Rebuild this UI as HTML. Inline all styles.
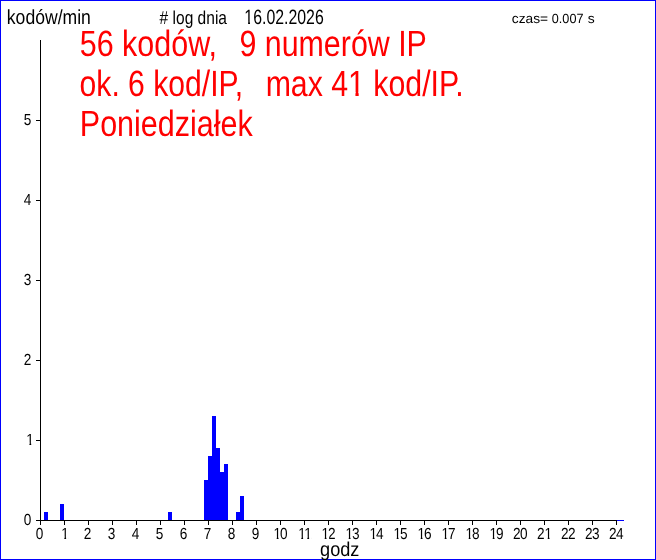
<!DOCTYPE html>
<html><head><meta charset="utf-8"><title>log dnia 16.02.2026</title>
<style>
html,body{margin:0;padding:0;background:#fff;}
body{width:656px;height:560px;overflow:hidden;}
#chart{width:656px;height:560px;will-change:transform;}
svg{display:block;}
text{font-family:"Liberation Sans",sans-serif;white-space:pre;text-rendering:geometricPrecision;}
.c{shape-rendering:crispEdges;}
</style></head><body>
<div id="chart"><svg width="656" height="560" viewBox="0 0 656 560">
<rect x="0" y="0" width="656" height="560" fill="#fff"/>

<g class="c" fill="#00f"><rect x="0" y="0" width="656" height="1"/><rect x="0" y="559" width="656" height="1"/><rect x="0" y="0" width="1" height="560"/><rect x="655" y="0" width="1" height="560"/></g>
<g class="c" fill="#00f">
<rect x="44" y="512" width="4" height="8"/>
<rect x="60" y="504" width="4" height="16"/>
<rect x="168" y="512" width="4" height="8"/>
<rect x="204" y="480" width="4" height="40"/>
<rect x="208" y="456" width="4" height="64"/>
<rect x="212" y="416" width="4" height="104"/>
<rect x="216" y="448" width="4" height="72"/>
<rect x="220" y="472" width="4" height="48"/>
<rect x="224" y="464" width="4" height="56"/>
<rect x="236" y="512" width="4" height="8"/>
<rect x="240" y="496" width="4" height="24"/>
<rect x="617" y="520" width="7" height="1"/>
</g>
<g class="c" fill="#000">
<rect x="40" y="40" width="1" height="481"/>
<rect x="40" y="520" width="577" height="1"/>
<rect x="40" y="521" width="1" height="4"/>
<rect x="64" y="521" width="1" height="4"/>
<rect x="88" y="521" width="1" height="4"/>
<rect x="112" y="521" width="1" height="4"/>
<rect x="136" y="521" width="1" height="4"/>
<rect x="160" y="521" width="1" height="4"/>
<rect x="184" y="521" width="1" height="4"/>
<rect x="208" y="521" width="1" height="4"/>
<rect x="232" y="521" width="1" height="4"/>
<rect x="256" y="521" width="1" height="4"/>
<rect x="280" y="521" width="1" height="4"/>
<rect x="304" y="521" width="1" height="4"/>
<rect x="328" y="521" width="1" height="4"/>
<rect x="352" y="521" width="1" height="4"/>
<rect x="376" y="521" width="1" height="4"/>
<rect x="400" y="521" width="1" height="4"/>
<rect x="424" y="521" width="1" height="4"/>
<rect x="448" y="521" width="1" height="4"/>
<rect x="472" y="521" width="1" height="4"/>
<rect x="496" y="521" width="1" height="4"/>
<rect x="520" y="521" width="1" height="4"/>
<rect x="544" y="521" width="1" height="4"/>
<rect x="568" y="521" width="1" height="4"/>
<rect x="592" y="521" width="1" height="4"/>
<rect x="616" y="521" width="1" height="4"/>
<rect x="36" y="520" width="4" height="1"/>
<rect x="36" y="440" width="4" height="1"/>
<rect x="36" y="360" width="4" height="1"/>
<rect x="36" y="280" width="4" height="1"/>
<rect x="36" y="200" width="4" height="1"/>
<rect x="36" y="120" width="4" height="1"/>
</g>
<g fill="#000" font-size="16.1">
<text transform="translate(35.80,539) scale(0.845,1)">0</text>
<text transform="translate(61.20,539) scale(0.845,1)">1</text><g fill="#fff" transform="translate(61.20,539) scale(0.845,1)"><rect x="0.43" y="-2.40" width="3.27" height="4.00"/><rect x="5.82" y="-2.40" width="3.15" height="4.00"/></g>
<text transform="translate(83.80,539) scale(0.845,1)">2</text>
<text transform="translate(107.80,539) scale(0.845,1)">3</text>
<text transform="translate(131.80,539) scale(0.845,1)">4</text>
<text transform="translate(155.80,539) scale(0.845,1)">5</text>
<text transform="translate(179.80,539) scale(0.845,1)">6</text>
<text transform="translate(203.80,539) scale(0.845,1)">7</text>
<text transform="translate(227.80,539) scale(0.845,1)">8</text>
<text transform="translate(251.80,539) scale(0.845,1)">9</text>
<text transform="translate(273.00,539) scale(0.845,1)" letter-spacing="-0.671" dx="0.7 -0.7">10</text><g fill="#fff" transform="translate(273.00,539) scale(0.845,1)"><rect x="1.13" y="-2.40" width="3.27" height="4.00"/><rect x="6.52" y="-2.40" width="3.15" height="4.00"/></g>
<text transform="translate(297.00,539) scale(0.845,1)" letter-spacing="-0.671" dx="1.4 0.0">11</text><g fill="#fff" transform="translate(297.00,539) scale(0.845,1)"><rect x="1.83" y="-2.40" width="3.27" height="4.00"/><rect x="7.22" y="-2.40" width="3.15" height="4.00"/><rect x="8.92" y="-2.40" width="3.27" height="4.00"/><rect x="14.32" y="-2.40" width="3.15" height="4.00"/></g>
<text transform="translate(321.00,539) scale(0.845,1)" letter-spacing="-0.671" dx="0.7 -0.7">12</text><g fill="#fff" transform="translate(321.00,539) scale(0.845,1)"><rect x="1.13" y="-2.40" width="3.27" height="4.00"/><rect x="6.52" y="-2.40" width="3.15" height="4.00"/></g>
<text transform="translate(345.00,539) scale(0.845,1)" letter-spacing="-0.671" dx="0.7 -0.7">13</text><g fill="#fff" transform="translate(345.00,539) scale(0.845,1)"><rect x="1.13" y="-2.40" width="3.27" height="4.00"/><rect x="6.52" y="-2.40" width="3.15" height="4.00"/></g>
<text transform="translate(369.00,539) scale(0.845,1)" letter-spacing="-0.671" dx="0.7 -0.7">14</text><g fill="#fff" transform="translate(369.00,539) scale(0.845,1)"><rect x="1.13" y="-2.40" width="3.27" height="4.00"/><rect x="6.52" y="-2.40" width="3.15" height="4.00"/></g>
<text transform="translate(393.00,539) scale(0.845,1)" letter-spacing="-0.671" dx="0.7 -0.7">15</text><g fill="#fff" transform="translate(393.00,539) scale(0.845,1)"><rect x="1.13" y="-2.40" width="3.27" height="4.00"/><rect x="6.52" y="-2.40" width="3.15" height="4.00"/></g>
<text transform="translate(417.00,539) scale(0.845,1)" letter-spacing="-0.671" dx="0.7 -0.7">16</text><g fill="#fff" transform="translate(417.00,539) scale(0.845,1)"><rect x="1.13" y="-2.40" width="3.27" height="4.00"/><rect x="6.52" y="-2.40" width="3.15" height="4.00"/></g>
<text transform="translate(441.00,539) scale(0.845,1)" letter-spacing="-0.671" dx="0.7 -0.7">17</text><g fill="#fff" transform="translate(441.00,539) scale(0.845,1)"><rect x="1.13" y="-2.40" width="3.27" height="4.00"/><rect x="6.52" y="-2.40" width="3.15" height="4.00"/></g>
<text transform="translate(465.00,539) scale(0.845,1)" letter-spacing="-0.671" dx="0.7 -0.7">18</text><g fill="#fff" transform="translate(465.00,539) scale(0.845,1)"><rect x="1.13" y="-2.40" width="3.27" height="4.00"/><rect x="6.52" y="-2.40" width="3.15" height="4.00"/></g>
<text transform="translate(489.00,539) scale(0.845,1)" letter-spacing="-0.671" dx="0.7 -0.7">19</text><g fill="#fff" transform="translate(489.00,539) scale(0.845,1)"><rect x="1.13" y="-2.40" width="3.27" height="4.00"/><rect x="6.52" y="-2.40" width="3.15" height="4.00"/></g>
<text transform="translate(513.00,539) scale(0.845,1)" letter-spacing="-0.671">20</text>
<text transform="translate(537.00,539) scale(0.845,1)" letter-spacing="-0.671" dx="0 0.7">21</text><g fill="#fff" transform="translate(537.00,539) scale(0.845,1)"><rect x="9.41" y="-2.40" width="3.27" height="4.00"/><rect x="14.80" y="-2.40" width="3.15" height="4.00"/></g>
<text transform="translate(561.00,539) scale(0.845,1)" letter-spacing="-0.671">22</text>
<text transform="translate(585.00,539) scale(0.845,1)" letter-spacing="-0.671">23</text>
<text transform="translate(609.00,539) scale(0.845,1)" letter-spacing="-0.671">24</text>
<text transform="translate(23.7,525) scale(0.845,1)">0</text>
<text transform="translate(26.3,445) scale(0.845,1)">1</text><g fill="#fff" transform="translate(26.3,445) scale(0.845,1)"><rect x="0.43" y="-2.40" width="3.27" height="4.00"/><rect x="5.82" y="-2.40" width="3.15" height="4.00"/></g>
<text transform="translate(23.7,365) scale(0.845,1)">2</text>
<text transform="translate(23.7,285) scale(0.845,1)">3</text>
<text transform="translate(23.7,205) scale(0.845,1)">4</text>
<text transform="translate(23.7,125) scale(0.845,1)">5</text>
</g>
<text transform="translate(6.82,24) scale(0.8622,1)" font-size="20.4" fill="#000" xml:space="preserve">kodów/min</text>
<text transform="translate(159.62,24) scale(0.8324,1)" font-size="18.67" fill="#000" xml:space="preserve"># log dnia</text>
<text transform="translate(244.36,24) scale(0.7663,1)" font-size="20.7" fill="#000" xml:space="preserve">16.02.2026</text><g fill="#fff" transform="translate(244.36,24) scale(0.7663,1)"><rect x="0.78" y="-2.75" width="4.08" height="4.35"/><rect x="7.38" y="-2.75" width="3.92" height="4.35"/></g>
<text transform="translate(511.85,23) scale(1.0311,1)" font-size="13.33" fill="#000" xml:space="preserve">czas=</text>
<text transform="translate(551.82,23) scale(0.9482,1)" font-size="13.33" fill="#000" xml:space="preserve">0.007</text>
<text transform="translate(587.84,23) scale(1.0402,1)" font-size="13.33" fill="#000" xml:space="preserve">s</text>
<text transform="translate(79.73,56) scale(0.8350,1)" font-size="36.5" fill="#f00" xml:space="preserve">56 kodów,</text>
<text transform="translate(239.46,56) scale(0.8321,1)" font-size="36.5" fill="#f00" xml:space="preserve">9 numerów IP</text>
<text transform="translate(79.59,96) scale(0.8249,1)" font-size="36.5" fill="#f00" xml:space="preserve">ok. 6 kod/IP,</text>
<text transform="translate(265.65,96) scale(0.8296,1)" font-size="36.5" fill="#f00" xml:space="preserve">max 41 kod/IP.</text><g fill="#fff" transform="translate(265.65,96) scale(0.8296,1)"><rect x="101.37" y="-3.93" width="6.85" height="5.53"/><rect x="112.14" y="-3.93" width="6.56" height="5.53"/></g>
<text transform="translate(79.78,136) scale(0.8358,1)" font-size="36.5" fill="#f00" xml:space="preserve">Poniedziałek</text>
<text transform="translate(320.04,556) scale(0.9074,1)" font-size="20.0" fill="#000" xml:space="preserve">godz</text>
</svg></div></body></html>
